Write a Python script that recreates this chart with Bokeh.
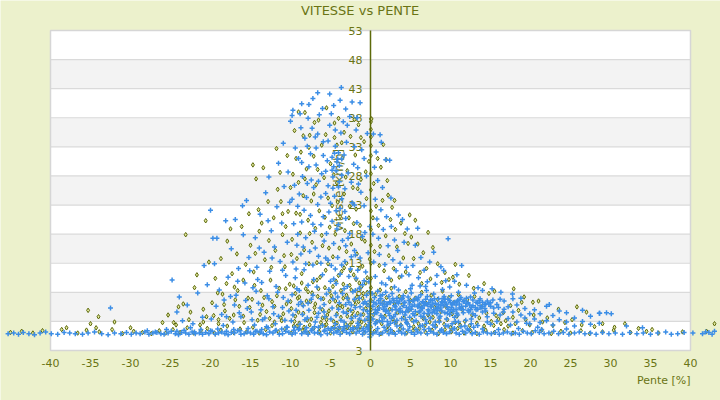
import math
from bokeh.plotting import figure
from bokeh.models import Range1d
from bokeh.core.properties import value
from bokeh.embed import file_html
from bokeh.resources import INLINE

# ---------------- data ----------------
title_text = "VITESSE vs PENTE"
x_label = "Pente [%]"
y_label = "Vitesse [km/h]"
x_ticks = [-40, -35, -30, -25, -20, -15, -10, -5, 0, 5, 10, 15, 20, 25, 30, 35, 40]
grid_levels = [-2, 3, 8, 13, 18, 23, 28, 33, 38, 43, 48, 53]
y_label_pos = [-2, 8, 13, 18, 23, 28, 33, 38, 43, 48, 53]
y_label_txt = ["3", "8", "13", "18", "23", "28", "33", "38", "43", "48", "53"]
gray_bands = [(3, 8), (13, 18), (23, 28), (33, 38), (43, 48)]

# blue series (+)
blue_floor = [(-45.3,0.9),(-44.6,1.0),(-44.0,0.8),(-43.4,1.1),(-42.7,0.9),(-42.0,0.7),(-41.3,1.0),(-40.6,1.2),
 (-39.9,0.9),(-39.1,0.8),(-38.3,1.1),(-37.6,1.0),(-36.9,0.9),(-36.0,0.8),(-35.3,1.0),(-34.5,1.2),(-33.6,0.9),
 (-32.8,0.7),(-32.0,1.0),(-31.2,0.9),(-30.5,1.1),(-29.9,0.8),(-29.3,1.0),(-28.8,0.9),(-28.2,1.2),(-27.7,0.8),
 (-27.2,1.0),(-26.7,1.1),(-26.2,0.9),(-25.8,0.8),(-25.3,1.0),(-24.9,1.3),(-24.4,0.9),(-24.0,0.7),(-23.6,1.1),
 (-23.1,1.0),(-22.7,0.8),(-22.3,1.2),(-21.9,0.9),(-21.4,1.0),(-21.0,0.8),(-20.6,1.1),(-20.2,0.9),(-19.8,1.3),
 (-19.4,0.8),(-19.0,1.0),(-18.6,1.2),(-18.2,0.9),(-17.8,0.7),(-17.4,1.1),(-17.0,1.0),(-16.6,1.4),(-16.2,0.8),
 (-15.8,0.9),(-15.4,1.2),(-15.0,1.0),(-14.6,0.8),(-14.2,1.3),(-13.8,1.1),(-13.4,0.9),(-13.0,0.7),(-12.6,1.2),
 (-12.2,1.0),(-11.8,1.5),(-11.4,0.8),(-11.0,0.9),(-10.6,1.3),(-10.2,1.1),(-9.8,0.8),(-9.4,1.0),(-9.0,1.6),
 (-8.6,0.9),(-8.2,1.2),(-7.8,0.8),(-7.4,1.4),(-7.0,1.0),(-6.6,1.1),(-6.2,0.7),(-5.8,1.3),(-5.4,0.9),(-5.0,1.5),
 (-4.6,1.0),(-4.2,1.2),(-3.8,0.8),(-3.4,1.4),(-3.0,1.1),(-2.6,0.9),(-2.2,1.6),(-1.8,1.0),(-1.4,1.3),(-1.0,0.8),
 (-0.6,1.2),
 (-27.9,1.4),(-26.9,1.2),(-25.5,1.6),(-24.2,1.3),(-23.3,1.5),(-22.0,1.2),(-21.2,1.6),(-20.0,1.4),(-19.1,1.7),
 (-18.0,1.3),(-17.1,1.6),(-16.3,1.4),(-15.3,1.8),(-14.4,1.3),(-13.6,1.6),(-12.8,1.9),(-11.9,1.4),(-11.1,1.7),
 (-10.4,2.0),(-9.6,1.5),(-8.9,1.8),(-8.1,1.3),(-7.3,1.7),(-6.5,2.0),(-5.7,1.5),(-4.9,1.8),(-4.1,1.4),(-3.3,2.1),
 (-2.5,1.6),(-1.7,1.9),(-0.9,1.5),(-0.3,1.7),
 (0.3,0.9),(0.7,1.2),(1.1,0.8),(1.5,1.0),(1.9,1.4),(2.3,0.9),(2.7,1.1),(3.1,0.8),(3.5,1.3),(3.9,1.0),(4.3,0.9),
 (4.7,1.5),(5.1,1.1),(5.5,0.8),(5.9,1.2),(6.3,1.0),(6.7,1.6),(7.1,0.9),(7.5,1.3),(7.9,1.0),(8.3,0.8),(8.7,1.4),
 (9.1,1.1),(9.5,0.9),(9.9,1.2),(10.3,1.7),(10.7,1.0),(11.1,0.8),(11.5,1.3),(11.9,1.0),(12.3,1.5),(12.7,0.9),
 (13.1,1.1),(13.6,0.8),(14.1,1.2),(14.6,1.0),(15.1,0.9),(15.6,1.1),(16.1,0.8),(16.6,1.0),(17.1,1.2),(17.6,0.9),
 (18.1,1.0),(18.6,0.8),(19.1,1.3),(19.6,1.0),(20.1,0.9),(20.6,1.4),(21.1,1.1),(21.7,0.9),(22.3,1.0),(22.9,1.3),
 (23.5,0.9),(24.1,1.1),(24.8,0.8),(25.5,1.0),(26.1,1.2),(26.8,0.9),(27.5,1.0),(28.2,0.8),(29.0,1.1),(29.8,0.9),
 (30.6,1.0),(31.5,0.8),(32.4,1.1),(33.3,0.9),(34.1,1.0),(35.0,0.8),(35.9,1.0),(36.9,1.2),(37.6,0.8),(38.4,0.9),
 (39.2,1.1),(40.3,1.0),(41.5,0.9),(42.3,1.1),(43.0,1.3),(42.7,0.8),(41.9,1.2),
 (0.9,1.8),(1.7,2.0),(2.5,1.6),(3.3,2.2),(4.1,1.7),(4.9,2.1),(5.7,1.6),(6.5,2.3),(7.3,1.8),(8.1,2.0),(8.9,1.6),
 (9.7,2.2),(10.5,1.8),(11.3,2.1),(12.1,1.7),(12.9,2.0),(14.0,1.7),(16.0,1.6),(18.5,1.8),(21.4,1.6),(24.5,1.7),
 (20.9,2.0)]

blue_axis = [(-0.1,0.3),(-0.1,0.8),(-0.1,1.3),(-0.1,1.8),(-0.1,2.3),(-0.1,2.8),(-0.1,3.3),(-0.1,3.8),(-0.1,4.3),
 (-0.1,4.8),(-0.1,5.6),(-0.1,6.5),(-0.1,8.0)]

blue_left = [(-32.5,5.3),(-24.8,10.1),(-24.2,4.6),(-23.5,3.1),(-22.9,5.8),(-22.2,2.6),(-21.6,7.9),(-21.0,3.7),
 (-20.4,9.3),(-20.0,22.1),(-20.8,12.6),(-23.9,7.2),(-22.5,1.9),
 (-19.7,17.3),(-19.2,17.3),(-19.5,12.9),(-18.9,8.4),(-18.6,4.2),(-18.1,20.3),(-18.3,6.7),(-17.8,10.6),(-17.4,15.5),
 (-17.2,2.9),(-16.9,20.5),(-16.8,7.5),(-16.5,12.1),(-16.2,3.8),(-16.0,22.9),(-15.9,17.9),(-15.7,9.6),(-15.5,23.8),
 (-15.4,5.2),(-15.2,14.0),(-19.9,3.4),(-17.0,5.8),(-18.4,2.3),(-16.6,9.9),(-15.1,11.7),
 (-14.9,4.6),(-14.7,8.8),(-14.4,17.4),(-14.2,12.3),(-14.0,6.1),(-13.8,21.4),(-13.6,9.7),(-13.5,3.3),(-13.3,14.9),
 (-13.1,25.1),(-12.9,7.4),(-12.7,27.8),(-12.6,11.6),(-12.4,18.6),(-12.2,5.5),(-12.0,15.8),(-11.8,9.0),(-11.7,22.7),
 (-11.5,3.9),(-11.3,13.3),(-11.1,19.9),(-10.9,7.1),(-10.8,26.2),(-10.6,10.9),(-10.4,16.6),(-10.2,4.8),(-10.1,23.5),
 (-14.5,2.4),(-13.0,2.1),(-11.9,2.6),(-10.5,2.0),(-13.9,15.6),(-12.3,13.9),(-11.0,11.8),(-14.1,10.2),(-12.8,20.3),
 (-10.0,37.4),(-9.7,39.3),(-8.6,40.4),(-6.6,42.3),(-5.1,42.1),(-7.2,41.3),(-7.7,40.3),(-8.8,38.7),(-9.8,38.4),
 (-9.9,3.1),(-9.8,7.6),(-9.7,13.2),(-9.6,19.8),(-9.5,26.4),(-9.4,10.5),(-9.3,4.9),(-9.2,16.1),(-9.1,22.8),
 (-9.0,31.0),(-8.9,8.3),(-8.8,2.5),(-8.7,14.6),(-8.6,20.1),(-8.5,27.9),(-8.4,5.7),(-8.3,11.9),(-8.2,34.5),
 (-8.1,17.4),(-8.0,24.3),(-7.9,3.6),(-7.8,9.2),(-7.7,29.6),(-7.6,15.0),(-7.5,21.2),(-7.4,6.8),(-7.3,36.2),
 (-7.2,12.7),(-7.1,26.0),(-7.0,18.5),(-6.9,2.9),(-6.8,32.8),(-6.7,8.9),(-6.6,23.1),(-6.5,14.2),(-6.4,38.5),
 (-6.3,5.3),(-6.2,19.6),(-6.1,28.4),(-6.0,11.0),(-5.9,33.9),(-5.8,16.8),(-5.7,3.8),(-5.6,25.0),(-5.5,7.7),
 (-5.4,30.6),(-5.3,13.5),(-5.2,21.8),(-5.1,36.7),(-5.0,9.9),(-9.5,2.0),(-8.0,1.9),(-7.0,2.1),(-6.0,2.3),(-5.3,1.8),
 (-9.0,5.9),(-8.5,4.2),(-7.8,6.1),(-6.5,4.4),(-5.8,5.9),(-9.3,12.0),(-8.4,15.8),(-7.1,10.2),(-6.2,13.0),(-5.5,18.1),
 (-8.9,24.9),(-7.4,27.3),(-6.8,29.9),(-5.9,31.5),(-5.3,34.0),(-6.6,35.2),(-7.9,33.1),(-8.6,30.3),
 (-3.65,43.2),(-3.8,41.0),(-4.9,38.7),(-2.3,40.7),(-1.3,40.6),(-4.95,3.4),(-4.9,12.6),(-4.8,20.2),(-4.8,31.2),
 (-4.7,6.9),(-4.6,16.4),(-4.6,29.6),(-4.5,24.5),(-4.4,33.1),(-4.4,2.6),(-4.3,9.5),(-4.2,30.4),(-4.2,18.9),
 (-4.1,14.0),(-4.0,32.0),(-4.0,5.1),(-3.9,27.0),(-3.8,22.4),(-3.8,11.1),(-3.7,35.4),(-3.6,30.9),(-3.5,7.8),
 (-3.5,16.9),(-3.4,37.3),(-3.3,2.9),(-3.2,25.8),(-3.2,13.3),(-3.1,20.7),(-3.0,4.4),(-3.0,33.8),(-2.9,9.0),
 (-2.8,28.5),(-2.7,6.3),(-2.6,18.1),(-2.6,38.2),(-2.5,12.0),(-2.4,3.5),(-2.3,23.4),(-2.2,8.1),(-2.1,30.0),
 (-2.0,15.2),(-1.9,5.4),(-1.8,35.9),(-1.8,10.4),(-1.7,20.0),(-1.6,2.7),(-1.5,26.6),(-1.4,7.0),(-1.3,13.9),
 (-1.2,4.1),(-1.1,32.5),(-1.0,9.3),(-1.0,17.6),(-0.9,6.1),(-0.8,22.9),(-0.7,3.2),(-0.6,11.5),(-0.5,28.0),
 (-0.5,7.5),(-0.4,4.7),(-0.3,14.8),(-0.2,2.4),(-0.2,9.8),(-0.1,19.3),(-4.5,1.9),(-3.9,2.1),(-3.4,1.7),(-2.9,2.2),
 (-2.2,1.9),(-1.5,2.3),(-0.9,1.8),(-0.4,2.0),(-4.3,4.0),(-3.7,3.2),(-3.1,5.9),(-2.5,4.9),(-1.9,3.9),(-1.3,5.5),
 (-0.7,6.4),(-4.1,7.2),(-3.3,8.6),(-2.7,10.7),(-2.0,6.8),(-1.4,8.7),(-0.8,10.0),(-4.6,10.3),(-3.6,12.7),
 (-2.4,14.1),(-1.6,11.8),(-4.7,27.8),(-4.3,28.9),(-3.9,29.8),(-4.5,31.9),(-4.1,30.9),(-3.6,28.1),(-4.8,29.0),
 (-4.0,26.1),(-3.3,31.6),(-4.4,35.9),(-2.9,36.7),(-2.0,33.0),(-3.1,39.5),(-1.7,38.0)]

blue_cone_extra = [(-11.5,30.2),(-10.9,33.6),(-10.3,28.7),(-9.8,24.0),(-9.4,32.8),(-9.1,18.0),(-8.7,36.3),
 (-8.3,22.1),(-7.9,26.7),(-7.5,31.8),(-7.2,19.7),(-6.9,34.7),(-6.5,27.1),(-6.2,24.4),(-5.9,21.0),(-5.6,28.8),
 (-5.3,26.3),(-5.0,23.3),(-4.7,25.9),(-4.3,22.0),(-4.0,19.6),(-3.6,24.1),(-3.2,21.9),(-2.8,17.3),(-2.4,26.9),
 (-2.0,23.0),(-1.6,29.4),(-1.2,25.2),(-0.8,31.0),(-0.4,35.3),(-6.0,39.6),(-4.6,40.1),(-7.8,37.9),(-8.1,12.9),
 (-6.9,15.6),(-5.6,13.9),(-4.4,12.0),(-3.1,16.0),(-1.9,14.4),(-0.7,18.3)]

blue_left_low = [(-19.3,5.6),(-18.0,3.8),(-17.5,7.3),(-16.4,4.5),(-15.6,6.6),(-14.8,3.3),(-14.3,8.2),(-13.7,5.0),
 (-13.2,3.6),(-12.7,6.9),(-12.1,4.3),(-11.6,8.0),(-11.0,5.4),(-10.7,3.2),(-10.3,6.5),(-9.7,4.1),(-9.2,8.6),
 (-8.7,6.4),(-8.2,3.3),(-7.7,4.9),(-7.2,7.5),(-6.7,3.7),(-6.2,6.9),(-5.8,4.6),(-5.2,8.5),(-4.8,5.3),(-4.4,7.9),
 (-3.9,6.2),(-3.4,4.6),(-2.9,7.0),(-2.4,5.8),(-1.9,8.3),(-1.4,3.4),(-0.9,5.0),(-0.5,6.0),(-0.3,3.8)]

blue_right_up = [(0.36,35.2),(1.2,35.1),(1.35,33.8),(2.4,30.7),(1.9,30.8),(0.7,32.1),(0.9,27.2),(2.55,24.2),
 (4.0,20.5),(0.5,29.5),(0.6,24.0),(0.8,20.6),(1.0,17.3),(1.1,14.5),(1.3,22.2),(1.5,26.0),(1.6,18.8),(1.8,12.8),
 (2.0,21.0),(2.2,16.0),(2.6,19.3),(2.8,13.6),(3.0,17.0),(3.2,11.7),(3.4,15.2),(3.7,13.0),(3.9,10.8),(4.2,16.6),
 (4.5,12.3),(4.8,11.0),(0.4,13.2),(0.6,10.7),(0.3,18.0),(2.3,10.4),(3.5,21.3),(4.6,18.9),(1.4,9.6),
 (5.3,12.6),(5.6,16.1),(6.0,10.5),(6.3,14.0),(6.7,11.8),(7.1,9.8),(7.4,13.2),(7.9,14.9),(8.3,10.9),(8.8,12.4),
 (9.15,11.75),(9.7,17.2),(9.4,10.0),(5.9,19.0),(6.9,9.0),(8.1,9.4),(5.2,9.2),
 (11.4,12.6),(13.45,8.8),(15.2,8.6),(17.75,7.7),(10.5,9.9),(12.0,9.2),(14.0,8.3),(10.8,11.0),(16.3,8.0)]

blue_band = [(0.3,5.6),(0.3,3.4),(0.5,7.1),(0.5,4.3),(0.7,6.0),(0.7,2.9),(0.9,8.2),(0.9,4.9),(1.1,5.3),(1.1,3.1),
 (1.3,6.9),(1.3,4.0),(1.5,7.6),(1.5,5.8),(1.7,3.6),(1.7,6.4),(1.9,4.7),(1.9,8.0),(2.1,5.9),(2.1,3.0),(2.3,7.3),
 (2.3,4.4),(2.5,6.2),(2.5,2.7),(2.7,5.0),(2.7,7.8),(2.9,3.8),(2.9,6.6),(3.1,5.5),(3.1,4.2),(3.3,7.0),(3.3,3.2),
 (3.5,6.1),(3.5,8.4),(3.7,4.6),(3.7,5.2),(3.9,6.8),(3.9,3.5),(4.1,5.7),(4.1,7.4),(4.3,4.1),(4.3,6.3),(4.5,5.4),
 (4.5,2.8),(4.7,7.2),(4.7,4.8),(4.9,6.0),(4.9,3.7),(5.1,5.1),(5.1,7.9),(5.3,6.5),(5.3,4.3),(5.5,4.0),(5.5,5.8),
 (5.7,7.0),(5.7,3.1),(5.9,5.5),(5.9,6.7),(6.1,4.6),(6.1,6.0),(6.3,7.6),(6.3,3.9),(6.5,5.2),(6.5,6.4),(6.7,4.4),
 (6.7,5.7),(6.9,6.8),(6.9,3.3),(7.1,5.9),(7.1,7.3),(7.3,4.8),(7.3,6.2),(7.5,5.6),(7.5,3.6),(7.7,6.6),(7.7,4.5),
 (7.9,5.0),(7.9,7.7),(8.1,6.1),(8.1,2.9),(8.3,4.3),(8.3,5.4),(8.5,6.9),(8.5,5.9),(8.7,5.3),(8.7,3.9),(8.9,6.4),
 (8.9,4.8),(9.1,5.7),(9.1,7.0),(9.3,4.5),(9.3,6.3),(9.5,6.0),(9.5,3.4),(9.7,5.1),(9.7,6.8),(9.9,6.6),(9.9,4.2),
 (10.1,5.4),(10.1,7.4),(10.3,4.7),(10.3,6.1),(10.5,6.3),(10.5,3.7),(10.7,5.8),(10.7,5.0),(10.9,4.1),(10.9,6.6),
 (11.1,6.0),(11.1,5.3),(11.3,5.2),(11.3,7.1),(11.6,6.4),(11.6,4.5),(11.9,5.6),(11.9,3.2),(12.2,6.2),(12.2,4.9),
 (12.5,5.0),(12.5,7.2),(12.8,6.7),(12.8,5.7),(13.1,5.4),(13.1,4.0),(13.4,6.1),(13.4,5.1),(13.7,5.7),(13.7,6.9),
 (14.0,6.3),(14.0,4.6),(14.3,5.2),(14.3,5.9),(14.6,6.5),(14.6,3.8),(15.0,5.6),(15.0,6.2),(15.4,4.4),(15.4,5.3),
 (15.8,5.9),(15.8,3.0),(16.2,6.8),(16.2,4.1),(16.7,5.1),(16.7,6.5),(17.2,3.5),(17.2,5.5),(17.8,4.6),(17.8,6.9),
 (18.3,5.8),(18.3,2.9),(18.8,4.1),(18.8,7.0),(19.3,5.2),(19.3,3.6),(19.9,4.3),(19.9,2.6),(20.5,3.4),(20.5,5.0),
 (21.2,2.8),(21.2,4.3),(22.0,5.6),(22.0,3.1),(22.8,2.4),(22.8,4.0),(23.6,3.3),(23.6,4.8),(24.5,2.9),(24.5,4.5),
 (25.5,3.6),(25.5,2.2),(26.5,4.9),(26.5,3.0),(27.5,2.5),(27.5,3.9),(28.6,4.4),(28.6,2.7),(29.5,4.5),(30.1,4.3),
 (32.0,2.2),(34.0,1.9),(22.35,5.9),(28.65,4.4),
 (0.6,5.0),(1.2,6.1),(1.8,5.5),(2.4,6.4),(3.0,5.7),(3.6,4.9),(4.2,6.2),(4.8,5.3),(5.4,6.6),(6.0,5.6),(6.6,6.2),
 (7.2,5.0),(7.8,6.0),(8.4,5.2),(9.0,6.3),(9.6,5.5),(10.2,5.9),(10.8,6.4),(11.4,5.6),(12.0,6.1),(12.6,5.4),
 (13.2,6.3),(13.8,5.3),(14.4,6.0),(2.0,4.9),(4.0,4.6),(6.2,4.8),(8.0,4.6),(10.0,4.8),(12.3,4.6),(1.0,6.6),
 (3.3,6.3),(5.8,6.9),(7.5,6.7),(9.3,6.8),(11.7,6.6)]

blue_band_core = [(0.4,6.3),(0.8,4.5),(1.2,7.4),(1.6,5.1),(2.0,6.0),(2.4,4.0),(2.8,6.9),(3.2,5.0),(3.6,6.5),
 (4.0,7.0),(4.4,4.6),(4.8,6.6),(5.2,5.6),(5.6,4.7),(6.0,7.1),(6.4,5.3),(6.8,6.1),(7.2,4.3),(7.6,5.5),(8.0,6.9),
 (8.4,4.9),(8.8,5.8),(9.2,7.3),(9.6,4.4),(10.0,6.2),(10.4,5.1),(10.8,4.4),(11.2,6.8),(11.6,5.0),(12.0,7.0),
 (12.4,5.8),(12.8,4.3),(13.2,5.0),(13.6,6.6),(14.0,5.6),(14.4,4.8),(14.8,6.0),(15.3,6.7),(16.0,5.4),(16.6,4.6),
 (0.2,7.8),(1.4,3.7),(2.6,3.5),(4.4,3.3),(6.6,3.8),(8.6,3.6),(10.6,3.0),(12.6,3.4),(14.6,2.9),(3.0,8.9),
 (5.0,8.6),(7.0,8.3),(9.0,8.5),(11.0,8.0),(13.0,7.9),(1.9,9.3),(6.2,9.1),(9.9,8.9),
 (0.6,2.6),(1.5,3.0),(2.2,2.4),(3.0,2.8),(3.8,2.3),(4.6,2.6),(5.4,3.0),(6.2,2.2),(7.0,2.7),(7.8,2.4),(8.6,2.9),
 (9.4,2.3),(10.2,2.6),(11.0,2.9),(11.8,2.2),(12.6,2.6),(13.4,2.3),(15.0,2.5),(17.5,2.4),(19.5,2.7)]

# olive series (diamonds)
olive_floor = [(-45.0,1.1),(-43.6,1.3),(-42.2,1.0),(-41.0,1.4),(-38.6,1.6),(-36.6,1.0),(-35.5,1.5),(-33.9,1.2),
 (-32.3,1.6),(-31.0,0.9),(-29.6,1.3),(-28.5,1.1),(-27.4,0.9),(-26.4,1.4),(-25.6,1.0),(-24.7,1.6),(-23.8,1.1),
 (-22.9,1.9),(-22.1,1.0),(-21.2,1.4),(-20.4,1.8),(-19.5,1.0),(-18.7,1.5),(-17.9,2.2),(-17.1,1.1),(-16.3,1.7),
 (-15.5,1.2),(-14.7,2.0),(-13.9,1.0),(-13.1,1.6),(-12.3,2.3),(-11.5,1.2),(-10.7,1.7),(-9.9,1.0),(-9.2,2.2),
 (-8.5,1.4),(-7.8,1.0),(-7.1,1.8),(-6.4,1.2),(-5.7,2.3),(-5.0,1.0),(-4.3,1.6),(-3.6,1.1),(-2.9,1.9),(-2.2,1.2),
 (-1.5,1.6),(-0.8,1.0),(-35.0,2.6),(-32.0,2.9),(-30.0,1.9),(-26.0,2.8),(-24.3,2.4),(-20.9,2.9),(-19.0,3.3),
 (-38.0,1.9),(-34.3,1.9),
 (0.5,1.3),(1.3,0.9),(2.1,1.5),(2.9,1.1),(3.7,1.7),(4.5,1.0),(5.3,1.4),(6.1,1.8),(6.9,1.1),(7.7,1.5),(8.5,0.9),
 (9.3,1.6),(10.1,1.2),(10.9,1.8),(11.7,1.0),(12.5,1.4),(13.3,0.9),(14.4,1.5),(15.5,1.1),(16.7,1.6),(17.8,1.0),
 (19.0,1.4),(20.2,1.1),(21.4,1.5),(22.6,0.9),(23.8,1.3),(25.0,1.0),(26.3,1.4),(27.4,0.9),(29.0,1.2),(30.4,1.5),
 (32.5,1.1),(34.5,1.3),(36.0,1.0),(39.0,1.2),(42.0,1.3)]

olive_axis = [(0.05,37.8),(0.05,37.3),(0.05,36.0),(0.05,34.7),(0.05,33.2),(0.05,31.5),(0.05,28.4),(0.05,25.6),
 (0.05,22.0),(0.05,18.8),(0.05,16.1),(0.05,13.0),(0.05,10.4),(0.05,8.8),(0.05,6.6),(0.05,5.0),(0.05,3.5),
 (0.05,2.0),(0.05,1.0)]

olive_left = [(-35.3,4.9),(-34.0,3.8),(-25.3,4.1),(-24.6,2.8),(-23.1,17.9),(-23.4,6.0),(-22.7,3.3),(-22.0,8.8),
 (-21.3,2.4),(-20.6,20.3),(-20.9,5.1),(-20.2,13.2),(-24.0,5.5),(-21.7,11.0),
 (-19.8,6.2),(-19.4,10.4),(-19.0,2.6),(-18.7,13.8),(-18.5,7.7),(-18.2,4.8),(-17.9,16.8),(-17.6,3.5),(-17.3,11.2),
 (-17.0,8.9),(-16.7,14.6),(-16.4,5.6),(-16.1,19.3),(-15.8,2.8),(-15.6,12.8),(-15.3,7.0),(-15.0,16.1),(-19.6,4.0),
 (-18.0,9.5),(-16.9,6.7),(-15.9,10.1),(-17.5,18.9),(-15.2,21.5),
 (-14.8,6.8),(-14.7,29.9),(-14.3,27.5),(-14.6,11.5),(-14.1,3.2),(-13.9,18.5),(-13.4,29.4),(-13.7,8.3),(-13.2,13.6),
 (-13.0,4.7),(-12.8,23.6),(-12.5,10.1),(-12.3,6.4),(-12.1,20.8),(-11.75,32.7),(-11.6,25.7),(-11.9,15.2),(-11.4,8.7),
 (-11.2,3.6),(-11.0,17.9),(-10.7,12.4),(-10.4,31.5),(-10.5,6.0),(-10.3,21.9),(-10.1,9.4),(-14.0,22.2),(-12.7,16.9),
 (-11.3,28.6),(-13.5,5.8),(-12.0,2.9),(-10.9,4.3),(-14.4,14.7),(-10.8,14.3),
 (-9.9,5.2),(-9.8,17.1),(-9.7,28.3),(-9.6,9.1),(-9.5,35.8),(-9.4,3.9),(-9.3,21.6),(-9.2,13.8),(-9.1,7.0),(-9.0,26.9),
 (-8.9,2.7),(-8.8,18.2),(-8.7,32.1),(-8.6,11.2),(-8.5,5.9),(-8.4,24.6),(-8.3,15.3),(-8.2,38.9),(-8.1,8.6),(-8.0,29.2),
 (-7.9,3.2),(-7.8,20.4),(-7.7,12.9),(-7.6,35.0),(-7.5,6.4),(-7.4,23.7),(-7.3,16.6),(-7.2,9.8),(-7.1,31.4),(-7.0,4.5),
 (-6.9,19.0),(-6.8,26.5),(-6.7,13.1),(-6.6,7.3),(-6.5,37.6),(-6.4,22.0),(-6.3,10.6),(-6.2,2.8),(-6.1,33.3),(-6.0,16.0),
 (-5.9,6.9),(-5.8,27.7),(-5.7,20.9),(-5.6,11.8),(-5.5,39.7),(-5.4,4.1),(-5.3,24.2),(-5.2,15.6),(-5.1,8.2),(-5.0,30.1),
 (-9.6,2.2),(-8.3,2.0),(-7.6,2.4),(-6.4,1.9),(-5.5,2.5),(-9.0,4.6),(-8.0,6.5),(-7.0,5.4),(-6.0,3.6),(-5.2,4.8),
 (-9.4,7.8),(-8.6,9.6),(-7.3,7.9),(-6.7,10.1),(-5.7,8.8),(-9.0,39.0),(-7.0,37.2),
 (-4.9,7.4),(-4.8,22.9),(-4.7,14.1),(-4.6,3.0),(-4.5,34.6),(-4.4,18.0),(-4.3,9.9),(-4.2,26.8),(-4.1,5.6),(-4.0,37.9),
 (-3.9,15.6),(-3.8,21.0),(-3.7,3.7),(-3.6,11.6),(-3.5,31.1),(-3.4,7.0),(-3.3,24.9),(-3.2,18.6),(-3.1,2.5),(-3.0,13.0),
 (-2.9,28.9),(-2.8,5.0),(-2.7,20.8),(-2.6,9.2),(-2.5,34.8),(-2.4,16.3),(-2.3,3.9),(-2.2,26.0),(-2.1,11.0),(-2.0,6.6),
 (-1.9,31.6),(-1.8,22.3),(-1.7,14.6),(-1.6,4.4),(-1.5,36.8),(-1.4,9.6),(-1.3,19.5),(-1.2,27.4),(-1.1,2.9),(-1.0,12.5),
 (-0.9,7.8),(-0.8,33.9),(-0.7,16.8),(-0.6,5.2),(-0.5,24.1),(-0.4,10.5),(-0.3,3.4),(-0.2,30.5),(-0.1,13.7),
 (-4.6,2.0),(-3.9,1.8),(-3.2,2.0),(-2.6,2.4),(-2.0,1.9),(-1.3,2.1),(-0.6,2.3),(-4.2,4.3),(-3.5,5.5),(-2.9,3.9),
 (-2.2,4.7),(-1.5,6.4),(-0.9,4.2),(-4.4,6.5),(-3.7,8.3),(-3.0,7.5),(-2.4,8.4),(-1.7,7.2),(-1.1,9.0),(-0.4,8.0),
 (-4.0,10.9),(-3.3,12.2),(-2.5,11.7),(-1.8,10.2),(-4.5,37.1),(-2.0,37.7),(-3.3,35.5),(-4.2,33.3),(-1.2,34.6)]

olive_cone_extra = [(-11.2,23.6),(-10.6,19.3),(-10.0,26.0),(-9.3,31.0),(-8.8,21.4),(-8.2,27.5),(-7.7,32.9),
 (-7.1,24.9),(-6.6,29.1),(-6.1,17.8),(-5.6,35.1),(-5.1,19.2),(-4.6,28.2),(-4.1,23.5),(-3.6,33.7),(-3.1,27.8),
 (-2.6,22.8),(-2.1,19.8),(-1.6,25.8),(-1.1,17.2),(-0.6,28.7),(-12.4,12.3),(-9.9,14.5),(-7.6,18.1),(-5.3,12.9),
 (-3.0,15.0),(-1.4,12.1),(-13.6,19.9),(-11.0,21.5),(-8.4,34.9)]

olive_left_low = [(-22.5,4.6),(-20.5,3.8),(-19.1,7.9),(-18.3,5.9),(-17.1,4.1),(-16.6,8.3),(-15.9,3.9),(-15.1,5.4),
 (-14.5,9.2),(-13.8,4.2),(-13.3,7.1),(-12.6,3.5),(-12.0,5.6),(-11.7,7.4),(-11.1,3.1),(-10.6,8.6),(-10.0,6.4),
 (-9.5,3.0),(-8.9,7.2),(-8.4,4.4),(-7.8,8.1),(-7.4,3.4),(-6.9,6.0),(-6.5,8.6),(-6.0,5.0),(-5.5,3.3),(-5.1,6.4),
 (-4.7,9.0),(-4.2,2.7),(-3.8,5.8),(-3.4,9.4),(-2.8,6.9),(-2.3,2.9),(-1.9,5.9),(-1.4,3.1),(-1.0,7.0),(-0.6,9.6),
 (-0.3,5.8)]

olive_right_up = [(0.13,37.8),(1.6,33.4),(1.95,30.8),(1.3,29.5),(2.7,22.6),(4.9,21.3),(0.4,26.7),(0.7,22.8),
 (0.9,31.0),(1.0,19.5),(1.2,15.9),(1.5,23.8),(1.7,11.7),(1.9,17.7),(2.1,27.2),(2.3,14.3),(2.5,20.5),(2.9,12.1),
 (3.1,18.8),(3.3,15.8),(3.6,10.6),(3.8,19.9),(4.1,13.9),(4.4,11.5),(4.7,16.4),(0.5,15.0),(0.3,20.8),(2.2,24.7),
 (3.0,23.8),(1.1,12.6),(2.6,10.1),(4.3,18.1),
 (5.1,17.5),(5.9,16.3),(5.4,13.8),(6.2,11.4),(6.6,14.8),(7.0,12.1),(7.5,10.3),(7.8,15.7),(8.4,12.9),(8.9,9.7),
 (9.3,11.4),(9.8,10.2),(6.4,9.5),(5.6,20.4),(7.2,18.3),
 (12.3,10.9),(14.2,9.5),(17.9,8.6),(10.3,10.6),(11.1,9.4),(12.9,8.7),(15.5,8.2),(10.6,12.8),(19.2,7.2),
 (20.3,6.3),(25.8,5.5)]

olive_band = [(0.4,4.2),(0.6,7.6),(0.8,3.0),(1.0,5.4),(1.2,8.4),(1.4,2.6),(1.6,6.3),(1.8,3.9),(2.0,7.1),(2.2,2.2),
 (2.4,5.1),(2.6,8.7),(2.8,3.4),(3.0,6.0),(3.2,2.8),(3.4,4.5),(3.6,7.3),(3.8,2.4),(4.0,5.9),(4.2,3.6),(4.4,8.1),
 (4.6,2.7),(4.8,4.9),(5.0,6.6),(5.2,3.2),(5.4,2.1),(5.6,7.0),(5.8,4.4),(6.0,2.6),(6.2,5.7),(6.4,8.0),(6.6,3.5),
 (6.8,2.3),(7.0,6.1),(7.2,4.1),(7.4,2.9),(7.6,7.5),(7.8,3.7),(8.0,5.4),(8.2,2.2),(8.4,6.8),(8.6,3.1),(8.8,4.7),
 (9.0,8.2),(9.2,2.5),(9.4,5.6),(9.6,3.3),(9.8,7.1),(10.0,2.0),(10.2,4.3),(10.4,6.2),(10.6,2.8),(10.8,3.9),
 (11.0,7.6),(11.2,2.4),(11.5,5.0),(11.8,3.0),(12.1,6.7),(12.4,2.3),(12.7,4.1),(13.0,7.3),(13.3,2.7),(13.6,3.6),
 (13.9,5.5),(14.2,2.2),(14.5,4.4),(14.8,7.8),(15.1,3.0),(15.4,2.3),(15.7,4.0),(16.0,3.4),(16.3,2.6),(16.6,4.5),
 (16.9,3.1),(17.2,2.2),(17.5,5.7),(17.8,3.7),(18.1,2.6),(18.5,4.9),(18.9,6.3),(19.4,3.3),(19.9,2.4),(20.4,4.1),
 (21.0,6.5),(21.5,2.9),(22.1,3.6),(22.8,2.3),(23.5,5.1),(24.3,2.8),(25.2,3.3),(26.4,2.4),(27.0,4.6),
 (28.0,2.1),(29.0,2.6),(30.5,2.0),(31.8,2.6),(33.5,1.8),(35.2,1.6),(43.0,2.6)]

# ---------------- style ----------------
BG = "#ecf1cc"
OLIVE = "#5d6a0a"
TXT = "#6a7414"
BLUE = "#3c8ee6"
FONT = "DejaVu Sans"
W, H = 720, 400
PX_X = 8.0               # pixels per % of slope
PX_Y = 320.0 / 55.0      # pixels per km/h
X0_PX, YTOP_PX, YBOT_PX = 370.0, 30.0, 350.0

blue_pts = (blue_floor + blue_axis + blue_left + blue_cone_extra + blue_left_low + blue_right_up
            + blue_band + blue_band_core)
olive_pts = olive_floor + olive_axis + olive_left + olive_cone_extra + olive_left_low + olive_right_up + olive_band

xmin, xmax = x_ticks[0], x_ticks[-1]
ymin, ymax = grid_levels[0], grid_levels[-1]

# the frame covers the whole canvas so that marks outside the plotting area are kept
x_range = Range1d(-X0_PX / PX_X, (W - X0_PX) / PX_X)
y_range = Range1d(ymin - (H - YBOT_PX) / PX_Y, ymax + YTOP_PX / PX_Y)

p = figure(width=W, height=H, output_backend="svg", toolbar_location=None,
           x_range=x_range, y_range=y_range,
           min_border=0, background_fill_color=BG, border_fill_color=BG, outline_line_color=None)
p.grid.visible = False
p.axis.visible = False

# plot area
p.quad(left=[xmin], right=[xmax], bottom=[ymin], top=[ymax], fill_color="white", line_color=None)
p.quad(left=[xmin] * len(gray_bands), right=[xmax] * len(gray_bands),
       bottom=[b[0] for b in gray_bands], top=[b[1] for b in gray_bands],
       fill_color="#f3f3f3", line_color=None)
p.segment(x0=[xmin] * len(grid_levels), x1=[xmax] * len(grid_levels), y0=grid_levels, y1=grid_levels,
          line_color="#dadada", line_width=1.2)
p.quad(left=[xmin], right=[xmax], bottom=[ymin], top=[ymax], fill_color=None, line_color="#d6d6d6", line_width=1.5)

# y tick labels and y title (under the points)
p.text(x=[-1.0] * len(y_label_pos), y=y_label_pos, text=y_label_txt,
       text_align="right", text_baseline="middle", text_color=TXT,
       text_font=value(FONT), text_font_size="11px", text_font_style="normal")
p.text(x=[-3.9], y=[25.5], text=[y_label], angle=math.pi / 2, text_align="center", text_baseline="middle",
       text_color=TXT, text_font=value(FONT), text_font_size="11.5px", text_font_style="normal")

# points
p.scatter([q[0] for q in olive_pts], [q[1] for q in olive_pts], marker="diamond", size=4.5,
          line_color=OLIVE, fill_color="#e3e8a0", line_width=1)
p.scatter([q[0] for q in blue_pts], [q[1] for q in blue_pts], marker="cross", size=5,
          line_color=BLUE, line_width=1.5)

# vertical axis line at x = 0 (from bottom to top of plotting area)
p.segment(x0=[0], x1=[0], y0=[ymin], y1=[ymax], line_color=OLIVE, line_width=1.5)

# x tick labels, x title, chart title
y_xlab = ymin - 12 / PX_Y
p.text(x=x_ticks, y=[y_xlab] * len(x_ticks), text=[str(t) for t in x_ticks],
       text_align="center", text_baseline="middle", text_color=TXT,
       text_font=value(FONT), text_font_size="11px", text_font_style="normal")
p.text(x=[xmax], y=[ymin - 30 / PX_Y], text=[x_label], text_align="right", text_baseline="middle",
       text_color=TXT, text_font=value(FONT), text_font_size="11px", text_font_style="normal")
p.text(x=[-1.3], y=[ymax + 20 / PX_Y], text=[title_text], text_align="center", text_baseline="middle",
       text_color=TXT, text_font=value(FONT), text_font_size="13px", text_font_style="normal")

open("out.html", "w").write(file_html(p, INLINE))
